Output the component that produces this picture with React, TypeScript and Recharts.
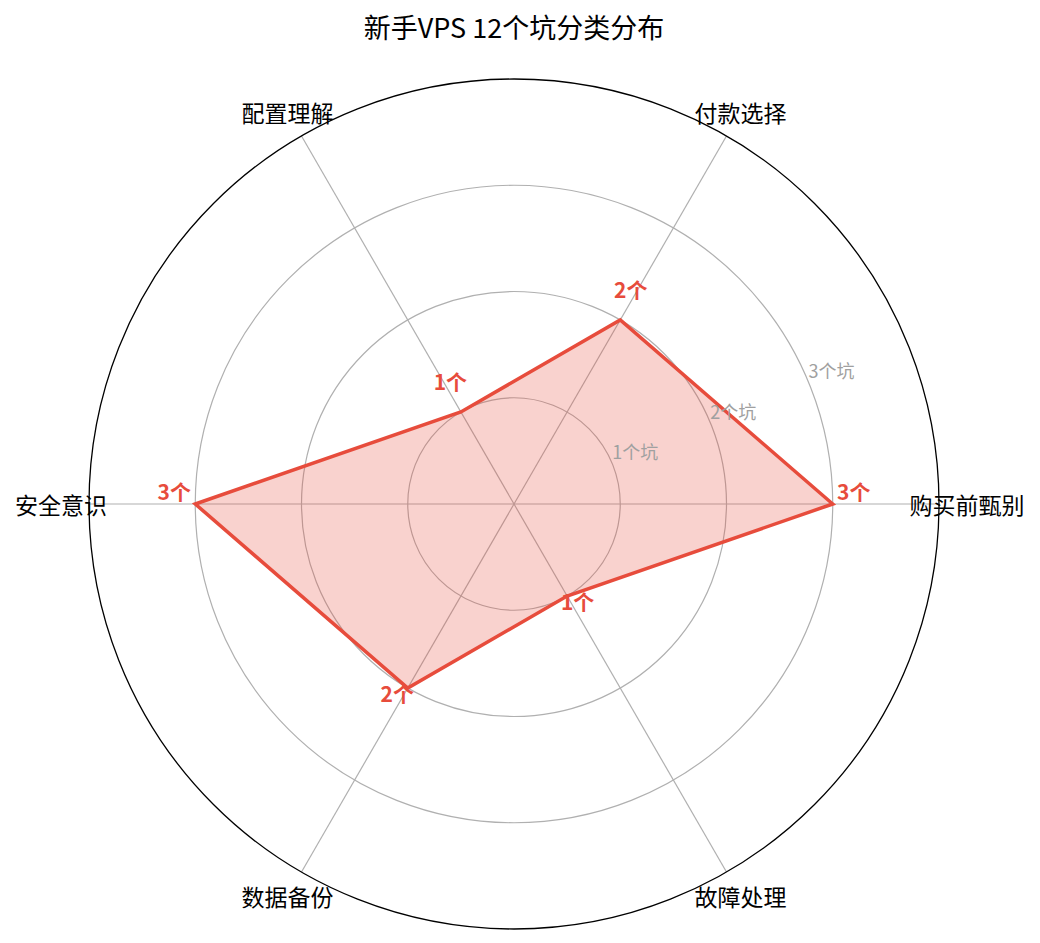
import React from 'react';
import { RadarChart, Radar, PolarGrid, PolarAngleAxis, PolarRadiusAxis } from 'recharts';

document.body.style.margin = '0';

// counter-clockwise from east, as in the reference
const categories = ['购买前甄别', '付款选择', '配置理解', '安全意识', '数据备份', '故障处理'];
const pitCounts = [3, 2, 1, 3, 2, 1];
const radiusTicks = [1, 2, 3];
const radiusTickLabels = ['1个坑', '2个坑', '3个坑'];

// recharts goes clockwise, so feed first item then the rest reversed
const order = [0, 5, 4, 3, 2, 1];
const data = order.map((i) => ({ name: categories[i], count: pitCounts[i] }));

const W = 1040;
const H = 943;
const CX = 514;
const CY = 504;
const OUTER = 425;
const RED = '#e74c3c';
const FONT = '"Noto Sans CJK SC", "Noto Sans", sans-serif';

function AngleTick(props: any) {
  const { x, y, payload } = props;
  return (
    <text x={x} y={y} textAnchor="middle" dominantBaseline="central" fontSize={23} fontFamily={FONT} fill="#000">
      {payload.value}
    </text>
  );
}

function RadiusTick(props: any) {
  const { x, y, payload } = props;
  const idx = radiusTicks.indexOf(payload.value);
  return (
    <text x={x} y={y - 4} textAnchor="start" fontSize={18} fontFamily={FONT} fill="#a0a0a0">
      {radiusTickLabels[idx] ?? ''}
    </text>
  );
}

function ValueLabel(props: any) {
  const { cx, cy, index } = props;
  const dx = cx - CX;
  const dy = cy - CY;
  const len = Math.sqrt(dx * dx + dy * dy) || 1;
  const off = 21;
  const lx = cx + (dx / len) * off;
  const ly = cy + (dy / len) * off;
  return (
    <text key={`lbl-${index}`} x={lx} y={ly - 4} textAnchor="middle" fontSize={21} fontWeight="bold" fontFamily={FONT} fill={RED}>
      {`${data[index].count}个`}
    </text>
  );
}

export default function App() {
  return (
    <div style={{ position: 'relative', width: W, height: H, background: '#fff' }}>
      <div
        style={{
          position: 'absolute',
          top: 8,
          left: 0,
          width: W - 12,
          textAlign: 'center',
          fontFamily: FONT,
          fontSize: 27,
          color: '#000',
          lineHeight: '38px',
        }}
      >
        新手VPS 12个坑分类分布
      </div>
      <RadarChart
        width={W}
        height={H}
        data={data}
        cx={CX}
        cy={CY}
        outerRadius={OUTER}
        startAngle={0}
        endAngle={-360}
        margin={{ top: 0, right: 0, bottom: 0, left: 0 }}
      >
        <PolarGrid gridType="circle" stroke="#b0b0b0" strokeWidth={1.2} />
        <PolarAngleAxis
          dataKey="name"
          tick={<AngleTick />}
          tickLine={false}
          tickSize={28}
          axisLineType="circle"
          axisLine={{ stroke: '#000', strokeWidth: 1.3 }}
        />
        <PolarRadiusAxis
          angle={22.5}
          domain={[0, 4]}
          ticks={radiusTicks}
          tick={<RadiusTick />}
          axisLine={false}
          tickLine={false}
        />
        <Radar
          dataKey="count"
          stroke={RED}
          strokeWidth={3.5}
          strokeLinejoin="miter"
          fill={RED}
          fillOpacity={0.25}
          dot={ValueLabel}
          isAnimationActive={false}
        />
      </RadarChart>
    </div>
  );
}
